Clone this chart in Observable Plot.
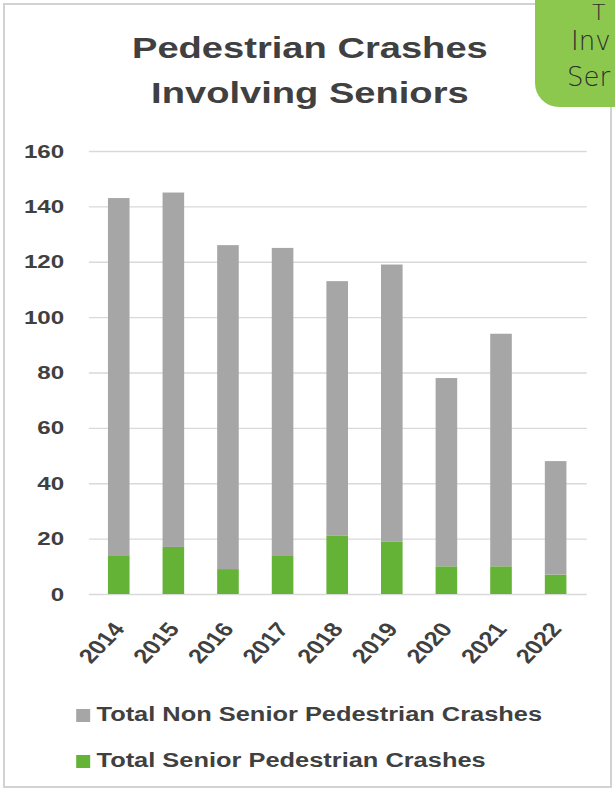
<!DOCTYPE html>
<html>
<head>
<meta charset="utf-8">
<script src="https://cdn.jsdelivr.net/npm/d3@7"></script>
<script src="https://cdn.jsdelivr.net/npm/@observablehq/plot@0.6"></script>
<style>
  html, body { margin: 0; padding: 0; background: #ffffff; }
  body { position: relative; width: 615px; height: 793px; overflow: hidden; font-family: "Liberation Sans", Arial, sans-serif; }
  #frame { position: absolute; left: 3px; top: 3px; width: 609px; height: 785px; border: 2px solid #d2d2d2; box-sizing: border-box; }
  #stretch { position: absolute; left: 0; top: 0; width: 484px; height: 793px; transform: scaleX(1.27); transform-origin: 0 0; }
  #title { position: absolute; left: 0; top: 25px; width: 488px; text-align: center; font-size: 30px; font-weight: bold; line-height: 45px; color: #404040; }
  #chart { position: absolute; left: 0; top: 125px; }
  .leg { position: absolute; left: 60px; font-size: 20px; font-weight: bold; color: #404040; white-space: nowrap; }
  .leg .sw { position: absolute; left: 0; width: 11px; height: 13px; }
  .leg .tx { position: absolute; left: 16px; }
  #callout { position: absolute; left: 535px; top: -30px; width: 100px; height: 137px; background: #8cc84e; border-bottom-left-radius: 24px; }
  .cl { position: absolute; font-family: "DejaVu Sans", sans-serif; font-weight: 300; font-size: 26px; color: #2e2e2e; white-space: nowrap; line-height: normal; }
</style>
</head>
<body>
<div id="frame"></div>
<div id="callout"></div>
<div class="cl" style="left:592px; top:0px; font-size:22px;">T</div>
<div class="cl" style="left:571px; top:26px;">Inv</div>
<div class="cl" style="left:567px; top:62px;">Ser</div>
<div id="stretch">
  <div id="title">Pedestrian Crashes<br>Involving Seniors</div>
  <div id="chart"></div>
</div>
<script>
// ---- data ----
const years = ["2014", "2015", "2016", "2017", "2018", "2019", "2020", "2021", "2022"];
const seniorCrashes = [14, 17, 9, 14, 21, 19, 10, 10, 7];
const nonSeniorCrashes = [129, 128, 117, 111, 92, 100, 68, 84, 41];
const yTicks = [0, 20, 40, 60, 80, 100, 120, 140, 160];
const seriesNames = ["Total Non Senior Pedestrian Crashes", "Total Senior Pedestrian Crashes"];
const seriesColors = ["#a6a6a6", "#64b236"];

// ---- table (senior stacked at the bottom) ----
const table = [];
years.forEach((y, i) => {
  table.push({year: y, series: seriesNames[1], value: seniorCrashes[i]});
  table.push({year: y, series: seriesNames[0], value: nonSeniorCrashes[i]});
});

const chart = Plot.plot({
  width: 484,
  height: 555,
  marginTop: 26,
  marginBottom: 86,
  marginLeft: 70,
  marginRight: 22,
  style: {fontFamily: "'Liberation Sans', Arial, sans-serif", fontWeight: "bold", background: "transparent", overflow: "visible"},
  x: {domain: years, paddingInner: 0.6, paddingOuter: 0.3, label: null},
  y: {domain: [0, 160], label: null},
  color: {domain: seriesNames, range: seriesColors},
  marks: [
    Plot.gridY(yTicks, {stroke: "#d9d9d9", strokeOpacity: 1, strokeWidth: 1.3}),
    Plot.barY(table, {x: "year", y: "value", fill: "series"}),
    Plot.axisY(yTicks, {tickSize: 0, tickPadding: 20, fontSize: 19, fontWeight: "bold", fill: "#404040", label: null}),
    Plot.axisX({tickSize: 0, tickPadding: 31, tickRotate: -52, fontSize: 20, fontWeight: "bold", fill: "#404040", label: null})
  ]
});
document.getElementById("chart").appendChild(chart);

// ---- legend ----
const stretch = document.getElementById("stretch");
const legendBaselines = [722, 768];
seriesNames.forEach((name, i) => {
  const row = document.createElement("div");
  row.className = "leg";
  row.style.top = (legendBaselines[i] - 19) + "px";
  row.innerHTML = `<span class="sw" style="background:${seriesColors[i]}; top:6px;"></span><span class="tx">${name}</span>`;
  stretch.appendChild(row);
});
</script>
</body>
</html>
